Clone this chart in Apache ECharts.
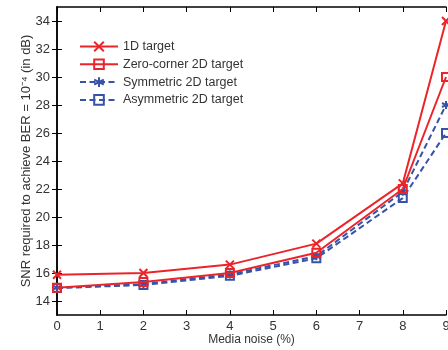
<!DOCTYPE html>
<html><head><meta charset="utf-8">
<script src="https://cdn.jsdelivr.net/npm/echarts@6/dist/echarts.min.js"></script>
<style>html,body{margin:0;padding:0;background:#fff}#c{width:448px;height:350px}</style>
</head><body><div id="c"></div>
<script>
const noise = [0, 2, 4, 6, 8, 9];
const target1D = [15.88, 16.0, 16.6, 18.1, 22.4, 34];
const zeroCorner2D = [14.95, 15.35, 16.0, 17.45, 22.0, 30];
const symmetric2D = [14.95, 15.2, 15.9, 17.2, 21.8, 28];
const asymmetric2D = [14.92, 15.15, 15.8, 17.05, 21.35, 26];
const names = ['1D target', 'Zero-corner 2D target', 'Symmetric 2D target', 'Asymmetric 2D target'];
const xTicks = [0,1,2,3,4,5,6,7,8,9];
const yTicks = [14,16,18,20,22,24,26,28,30,32,34];

const RED = '#ec2429', BLUE = '#3653a8';
const X_PATH = 'path://M0,0L10,10M10,0L0,10';
const STAR_PATH = 'path://M5,0L5,10M0.7,2.5L9.3,7.5M0.7,7.5L9.3,2.5';
const FONT = 'Liberation Sans, Arial, sans-serif';

function pts(arr){ return noise.map((x,i)=>[x, arr[i]]); }
function mk(name, arr, color, dashed, sym){
  return {
    name, type:'line', data: pts(arr), xAxisIndex:0, yAxisIndex:0,
    symbol: sym, symbolSize: 8, showAllSymbol:true,
    lineStyle:{color, width:2, type: dashed ? [6,3.5] : 'solid'},
    itemStyle:{color: 'rgba(0,0,0,0)', borderColor: color, borderWidth: 2},
    emphasis:{disabled:true}, animation:false, z: dashed?3:4
  };
}
const chart = echarts.init(document.getElementById('c'), null, {renderer:'canvas'});
const axText = {color:'#333', fontSize:13, fontFamily:FONT};
const tick = {show:true, inside:true, length:5, lineStyle:{color:'#000', width:1}};
chart.setOption({
  animation:false,
  grid:{left:57, right:2, top:7, bottom:35, outerBoundsMode:'none', containLabel:false},
  legend:{
    orient:'vertical', left:74, top:35, itemWidth:38, itemHeight:12, itemGap:4.8,
    textStyle:{color:'#333', fontSize:12.5, fontFamily:FONT},
    data: names
  },
  xAxis:[{
    type:'value', min:0, max:9, interval:1, name:'Media noise (%)', nameLocation:'middle', nameGap:19,
    nameMoveOverlap:false,
    nameTextStyle:{color:'#333', fontSize:12, fontFamily:FONT},
    axisLine:{lineStyle:{color:'#000', width:1.5}}, axisTick:Object.assign({customValues:xTicks}, tick),
    axisLabel:Object.assign({margin:5, customValues:xTicks}, axText), splitLine:{show:false}
  },{
    type:'value', min:0, max:9, interval:1, position:'top',
    axisLine:{lineStyle:{color:'#000', width:1.5}}, axisTick:Object.assign({customValues:xTicks}, tick),
    axisLabel:{show:false}, splitLine:{show:false}
  }],
  yAxis:[{
    type:'value', min:13, max:35, interval:1,
    name:'SNR required to achieve BER = 10\u207B\u2074 (in dB)', nameLocation:'middle', nameGap:24,
    nameMoveOverlap:false,
    nameTextStyle:{color:'#333', fontSize:13, fontFamily:FONT},
    axisLine:{lineStyle:{color:'#000', width:1.5}},
    axisTick:Object.assign({customValues:yTicks}, tick),
    axisLabel:Object.assign({margin:7, customValues:yTicks}, axText), splitLine:{show:false}
  },{
    type:'value', min:13, max:35, interval:1, position:'right',
    axisLine:{lineStyle:{color:'#000', width:1.5}},
    axisTick:Object.assign({customValues:yTicks}, tick),
    axisLabel:{show:false}, splitLine:{show:false}
  }],
  series:[
    mk(names[0], target1D, RED, false, X_PATH),
    mk(names[1], zeroCorner2D, RED, false, 'rect'),
    mk(names[2], symmetric2D, BLUE, true, STAR_PATH),
    mk(names[3], asymmetric2D, BLUE, true, 'rect')
  ]
});
</script></body></html>
